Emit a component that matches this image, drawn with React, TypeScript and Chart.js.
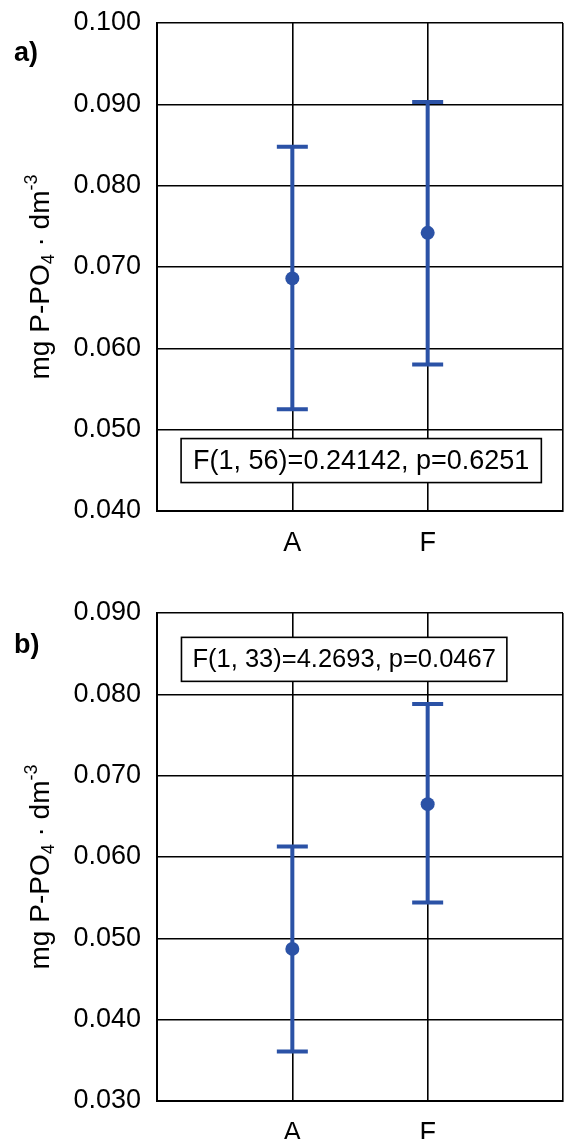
import React, { useEffect, useRef } from 'react';
import { Chart, registerables } from 'chart.js';

Chart.register(...registerables);

const FONT = '"Liberation Sans", Arial, Helvetica, sans-serif';
const BLUE = '#2B52A6';

// ---- data ----
const categories = ['', 'A', 'F', ''];

const meansA = [null, 0.0686, 0.0742, null];
const upperA = [null, 0.0848, 0.0903, null];
const lowerA = [null, 0.0525, 0.0580, null];
const yMinA = 0.04;
const yMaxA = 0.1;
const statA = 'F(1, 56)=0.24142, p=0.6251';

const meansB = [null, 0.0487, 0.0665, null];
const upperB = [null, 0.0613, 0.0788, null];
const lowerB = [null, 0.0361, 0.0544, null];
const yMinB = 0.03;
const yMaxB = 0.09;
const statB = 'F(1, 33)=4.2693, p=0.0467';

const yStep = 0.01;

type Panel = {
  top: number;
  height: number;
  padTop: number;
  xHeight: number;
  min: number;
  max: number;
  means: (number | null)[];
  upper: (number | null)[];
  lower: (number | null)[];
  stat: string;
  statFont: number;
  statPad: number;
  statX: number; // fraction of chart area width (center)
  statY: number; // value (center)
  letter: string;
  letterBaseline: number;
};

const panels: Panel[] = [
  {
    top: 0, height: 580, padTop: 23, xHeight: 69,
    min: yMinA, max: yMaxA, means: meansA, upper: upperA, lower: lowerA,
    stat: statA, statFont: 27, statPad: 24, statX: 0.503, statY: 0.0462,
    letter: 'a)', letterBaseline: 61,
  },
  {
    top: 580, height: 559, padTop: 33, xHeight: 38,
    min: yMinB, max: yMaxB, means: meansB, upper: upperB, lower: lowerB,
    stat: statB, statFont: 25.5, statPad: 22, statX: 0.461, statY: 0.0843,
    letter: 'b)', letterBaseline: 73,
  },
];

function makePlugins(p: Panel) {
  const errorBars = {
    id: 'errorBars',
    beforeDatasetsDraw(chart: any) {
      const ctx = chart.ctx;
      const xs = chart.scales.x;
      const ys = chart.scales.y;
      ctx.save();
      ctx.strokeStyle = BLUE;
      ctx.lineWidth = 4;
      ctx.lineCap = 'butt';
      p.means.forEach((m, i) => {
        const u = p.upper[i];
        const l = p.lower[i];
        if (m == null || u == null || l == null) return;
        const x = xs.getPixelForValue(i);
        const yu = ys.getPixelForValue(u);
        const yl = ys.getPixelForValue(l);
        ctx.beginPath();
        ctx.moveTo(x, yu);
        ctx.lineTo(x, yl);
        ctx.moveTo(x - 15.5, yu);
        ctx.lineTo(x + 15.5, yu);
        ctx.moveTo(x - 15.5, yl);
        ctx.lineTo(x + 15.5, yl);
        ctx.stroke();
      });
      ctx.restore();
    },
  };
  const extras = {
    id: 'extras',
    afterDraw(chart: any) {
      const ctx = chart.ctx;
      const area = chart.chartArea;
      const ys = chart.scales.y;
      ctx.save();
      // stats box
      ctx.font = `${p.statFont}px ${FONT}`;
      const tw = ctx.measureText(p.stat).width;
      const cx = area.left + (area.right - area.left) * p.statX;
      const cy = ys.getPixelForValue(p.statY);
      const bw = tw + p.statPad;
      const bh = 44;
      ctx.fillStyle = '#fff';
      ctx.fillRect(cx - bw / 2, cy - bh / 2, bw, bh);
      ctx.strokeStyle = '#000';
      ctx.lineWidth = 1.6;
      ctx.strokeRect(cx - bw / 2, cy - bh / 2, bw, bh);
      ctx.fillStyle = '#000';
      ctx.textAlign = 'center';
      ctx.textBaseline = 'middle';
      ctx.fillText(p.stat, cx, cy + 1);

      // panel letter
      ctx.font = `bold 27px ${FONT}`;
      ctx.textAlign = 'left';
      ctx.textBaseline = 'alphabetic';
      ctx.fillText(p.letter, 14, p.letterBaseline);

      // y-axis title with sub/superscript
      const base = 28;
      const small = 18;
      const segs = [
        { t: 'mg P-PO', k: 'n' },
        { t: '4', k: 'sub' },
        { t: ' \u00B7 dm', k: 'n' },
        { t: '-3', k: 'sup' },
      ];
      let total = 0;
      const widths = segs.map((s) => {
        ctx.font = `${s.k === 'n' ? base : small}px ${FONT}`;
        const w = ctx.measureText(s.t).width;
        total += w;
        return w;
      });
      const tx = 49;
      const ty = (area.top + area.bottom) / 2 + 10;
      ctx.translate(tx, ty);
      ctx.rotate(-Math.PI / 2);
      let pos = -total / 2;
      segs.forEach((s, i) => {
        ctx.font = `${s.k === 'n' ? base : small}px ${FONT}`;
        const off = s.k === 'sub' ? 5 : s.k === 'sup' ? -12 : 0;
        ctx.fillText(s.t, pos, off);
        pos += widths[i];
      });
      ctx.restore();
    },
  };
  return [errorBars, extras];
}

function PanelChart({ p }: { p: Panel }) {
  const ref = useRef<HTMLCanvasElement | null>(null);
  useEffect(() => {
    if (!ref.current) return;
    const chart = new Chart(ref.current, {
      type: 'line',
      data: {
        labels: categories,
        datasets: [
          {
            data: p.means as any,
            showLine: false,
            pointRadius: 7,
            pointHoverRadius: 7,
            pointBackgroundColor: BLUE,
            pointBorderColor: BLUE,
            pointBorderWidth: 0,
            clip: false as any,
          },
        ],
      },
      options: {
        responsive: false,
        animation: false,
        events: [],
        layout: { autoPadding: false, padding: { top: p.padTop, right: 1, left: 0, bottom: 0 } },
        plugins: {
          legend: { display: false },
          tooltip: { enabled: false },
          title: { display: false },
        },
        scales: {
          x: {
            type: 'category',
            offset: false,
            grid: { color: '#000', lineWidth: 1.6, drawTicks: false },
            border: { display: true, color: '#000', width: 2 },
            ticks: {
              autoSkip: false,
              maxRotation: 0,
              color: '#000',
              padding: 16,
              font: { family: FONT, size: 27 },
            },
            afterFit: (s: any) => {
              s.height = p.xHeight;
              s.paddingLeft = 0;
              s.paddingRight = 0;
              s.paddingTop = 0;
              s.paddingBottom = 0;
            },
          },
          y: {
            min: p.min,
            max: p.max,
            grid: { color: '#000', lineWidth: 1.6, drawTicks: false },
            border: { display: true, color: '#000', width: 2 },
            ticks: {
              stepSize: yStep,
              color: '#000',
              padding: 16,
              font: { family: FONT, size: 27 },
              callback: (v: any) => Number(v).toFixed(3),
            },
            afterFit: (s: any) => {
              s.width = 157;
              s.paddingLeft = 0;
              s.paddingRight = 0;
              s.paddingTop = 0;
              s.paddingBottom = 0;
            },
          },
        },
      },
      plugins: makePlugins(p),
    });
    return () => chart.destroy();
  }, [p]);
  return (
    <canvas
      ref={ref}
      width={564}
      height={p.height}
      style={{ position: 'absolute', left: 0, top: p.top, width: 564, height: p.height }}
    />
  );
}

export default function App() {
  return (
    <div style={{ position: 'absolute', left: 0, top: 0, width: 564, height: 1139, background: '#fff', overflow: 'hidden' }}>
      {panels.map((p, i) => (
        <PanelChart key={i} p={p} />
      ))}
    </div>
  );
}
